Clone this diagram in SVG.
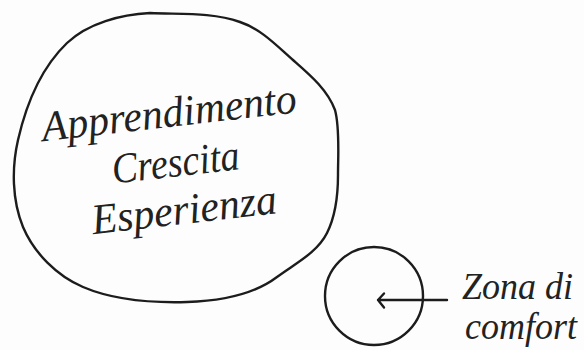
<svg xmlns="http://www.w3.org/2000/svg" width="584" height="350" viewBox="0 0 584 350">
<style>
.ln{fill:none;stroke:#1c1c1c;stroke-width:2.4;stroke-linecap:round;stroke-linejoin:round}
.t{font-family:"Liberation Serif","Times New Roman",serif;font-style:italic;fill:#222}
</style>
<rect width="584" height="350" fill="#fdfdfd"/>
<g id="big">
<path class="ln" d="M150,13 C180,14.5 212,12 240,22 C261,29 276.5,45.5 293,60 C309.5,74.5 327.3,89.3 335,110 C340,128 338,155 338,175 C338,195 336,215 327,233 C317,253 294.6,263.8 277,277 C252,296 218,301 187,302 C152,303 115,300.7 83,287 C57,276 34,253 23,227 C12,200 11.6,168 18,140 C26,105 41,68 67,43 C88,23 121,14.5 150,13 Z"/>
<g transform="rotate(-6.5 180 175)">
<text class="t" x="176" y="126" font-size="43" text-anchor="middle" textLength="256" lengthAdjust="spacingAndGlyphs">Apprendimento</text>
<text class="t" x="177" y="176" font-size="43" text-anchor="middle" textLength="128" lengthAdjust="spacingAndGlyphs">Crescita</text>
<text class="t" x="180" y="224" font-size="43" text-anchor="middle" textLength="186" lengthAdjust="spacingAndGlyphs">Esperienza</text>
</g>
</g>
<g id="small">
<circle class="ln" cx="374" cy="296" r="49"/>
</g>
<g id="label">
<text class="t" x="462" y="299" font-size="37" textLength="111" lengthAdjust="spacingAndGlyphs">Zona di</text>
<text class="t" x="465" y="339" font-size="37" textLength="112" lengthAdjust="spacingAndGlyphs">comfort</text>
</g>
<g id="connectors">
<path class="ln" d="M447,300 L378,300 M384,293.5 L378,300 L384,307.5"/>
</g>
</svg>
